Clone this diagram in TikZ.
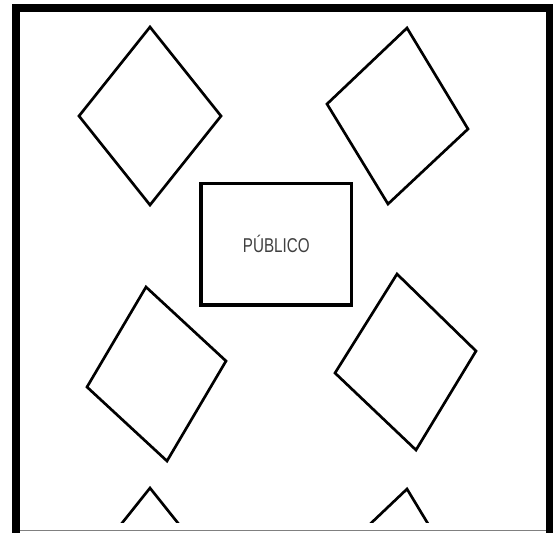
\documentclass[tikz,border=0pt]{standalone}
\usepackage{fontspec}
\newfontfamily\narrowsans[FakeStretch=0.76]{Liberation Sans}
\usetikzlibrary{positioning}
\definecolor{txt}{RGB}{64,64,64}
\tikzset{kite/.style={draw,line width=2pt,line join=miter},
 stage/.style={draw,line width=2.5pt,minimum width=113pt,minimum height=91pt,inner sep=0pt,
  font=\narrowsans\fontsize{15}{17}\selectfont,text=txt},
 wall/.style={fill=black},edge/.style={draw=gray,line width=.75pt}}

\begin{document}
\begin{tikzpicture}[x=.75pt,y=-.75pt]
\useasboundingbox (0,0) rectangle (553,533);
\fill[wall] (12,4) rectangle (553,533);
\fill[white] (20,12) rectangle (546,533);
\draw[edge] (20,530)--(546,530);
\node[stage] (pub) at (276.3,244.3) {PÚBLICO};
\draw[kite] (146,287)--(226,361)--(167,461)--(87,387)--cycle;
\draw[kite] (397,274)--(476,351)--(416,450)--(335,373)--cycle;
% top pair, repeated below and cut by the page edge
\begin{scope}
\clip (20,12) rectangle (546,522);
\foreach \dy in {0,461}{
 \draw[kite] (150,27+\dy)--(221,116+\dy)--(150,205+\dy)--(79,116+\dy)--cycle;
 \draw[kite] (407,28+\dy)--(468,129+\dy)--(388,204+\dy)--(327,104+\dy)--cycle;}
\end{scope}
\end{tikzpicture}
\end{document}
